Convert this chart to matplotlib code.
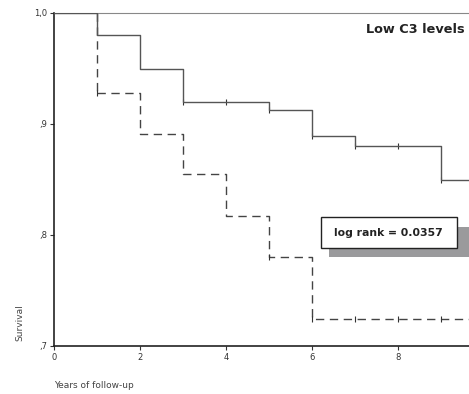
import matplotlib.pyplot as plt
from matplotlib.patches import Rectangle

# step data (time, survival)
t_solid = [0, 1, 2, 3, 5, 6, 7, 9, 9.7]
s_solid = [1.0, 0.98, 0.95, 0.92, 0.913, 0.889, 0.880, 0.85, 0.85]
cens_solid_t = [3, 4, 5, 6, 7, 8, 9]
cens_solid_s = [0.92, 0.92, 0.913, 0.889, 0.880, 0.880, 0.85]

t_dash = [1, 2, 3, 4, 5, 6, 9.7]
s_dash = [0.928, 0.891, 0.855, 0.817, 0.780, 0.724, 0.724]
cens_dash_t = [1, 5, 6, 7, 8, 9]
cens_dash_s = [0.928, 0.780, 0.724, 0.724, 0.724, 0.724]

xticks = [0, 2, 4, 6, 8]
yticks = [0.7, 0.8, 0.9, 1.0]
ylabels = [',7', ',8', ',9', '1,0']

fig = plt.figure(figsize=(4.69, 3.94), dpi=100)
ax = fig.add_axes([54 / 469, 1 - 346 / 394, 1 - 54 / 469, 333 / 394])

# dashed group drops from 1.0 at year 1
ax.plot([1, 1], [1.0, s_dash[0]], color='#444444', lw=1.0, ls=(0, (6, 4)), zorder=2)
ax.step(t_dash, s_dash, where='post', color='#444444', lw=1.0, ls=(0, (6, 4)), zorder=2)
ax.step(t_solid, s_solid, where='post', color='#555555', lw=1.0, zorder=3)
ax.plot(cens_solid_t, cens_solid_s, ls='none', marker='|', ms=5, color='#333333', mew=0.8)
ax.plot(cens_dash_t, cens_dash_s, ls='none', marker='|', ms=5, color='#333333', mew=0.8)

ax.set_xlim(0, 9.65)
ax.set_ylim(0.7, 1.0)
ax.set_xticks(xticks)
ax.set_yticks(yticks)
ax.set_yticklabels(ylabels)
ax.tick_params(labelsize=6, length=3, width=0.8, pad=2, colors='#333333')
for side in ['left', 'bottom']:
    ax.spines[side].set_color('#222222')
    ax.spines[side].set_linewidth(1.2)
ax.spines['top'].set_color('#888888')
ax.spines['right'].set_visible(False)

ax.text(0.99, 0.95, 'Low C3 levels', transform=ax.transAxes, ha='right', va='center',
        fontsize=9.3, fontweight='bold', color='#222222')

# log rank box with shadow
ax.add_patch(Rectangle((6.4, 0.780), 3.6, 0.027, facecolor='#9a9a9c', edgecolor='none',
                       clip_on=False, zorder=3))
ax.add_patch(Rectangle((6.2, 0.788), 3.17, 0.028, facecolor='white', edgecolor='#222222',
                       lw=1.0, clip_on=False, zorder=4))
ax.text(7.785, 0.802, 'log rank = 0.0357', ha='center', va='center', fontsize=7.8,
        fontweight='bold', color='#222222', zorder=5)

fig.text(20 / 469, 1 - 323 / 394, 'Survival', rotation=90, ha='center', va='center',
         fontsize=6.5, color='#444444')
fig.text(54 / 469, 1 - 385 / 394, 'Years of follow-up', ha='left', va='center',
         fontsize=6.5, color='#444444')

fig.savefig('out.png', dpi=100)
